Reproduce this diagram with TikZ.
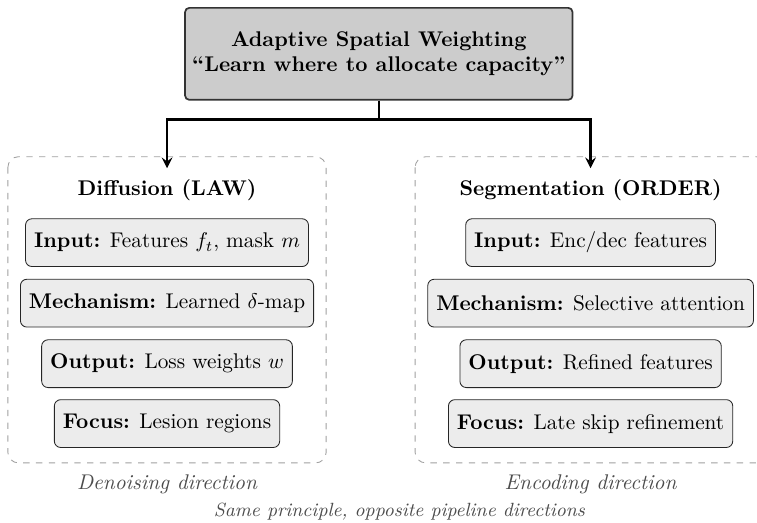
\documentclass[tikz,border=0pt]{standalone}
\usepackage{amsmath}
\usepackage{amssymb}

\begin{document}
\begin{tikzpicture}[x=1cm,y=1cm,
  topbox/.style={draw=black!80,fill=gray!40,rounded corners=2pt,thick,
    minimum width=6.38cm,minimum height=1.52cm,align=center},
  group/.style={draw=gray!75,dashed,rounded corners=5pt},
  item/.style={draw=black!85,fill=gray!15,rounded corners=3pt,
    inner xsep=4pt,minimum height=0.79cm},
  head/.style={font=\bfseries},
  note/.style={font=\itshape,text=black!70}]
  \useasboundingbox (0,0) rectangle (12.51,-8.64);

  \node[topbox] (asw) at (6.26,-0.89)
    {\textbf{Adaptive Spatial Weighting}\\ \textbf{``Learn where to allocate capacity''}};

  \draw [group] (0.13,-2.59) rectangle (5.39,-7.65);
  \draw [group] (6.86,-2.59) rectangle (12.67,-7.65);

  \coordinate (lend) at (2.76,-2.78);
  \coordinate (rend) at (9.76,-2.78);
  \draw [-stealth,line width=1.2pt] (asw.south) -- ++(0,-0.31) -| (lend);
  \draw [-stealth,line width=1.2pt] (asw.south) -- ++(0,-0.31) -| (rend);

  \node[head] (law) at (2.76,-3.14) {Diffusion (LAW)};
  \node[item] (lin)  at (2.76,-4.01) {\textbf{Input:} Features $f_t$, mask $m$};
  \node[item] (lmec) at (2.76,-5.01) {\textbf{Mechanism:} Learned $\delta$-map};
  \node[item] (lout) at (2.76,-6.01) {\textbf{Output:} Loss weights $w$};
  \node[item] (lfoc) at (2.76,-7.00) {\textbf{Focus:} Lesion regions};

  \node[head] (order) at (9.76,-3.14) {Segmentation (ORDER)};
  \node[item] (rin)  at (9.76,-4.01) {\textbf{Input:} Enc/dec features};
  \node[item] (rmec) at (9.76,-5.01) {\textbf{Mechanism:} Selective attention};
  \node[item] (rout) at (9.76,-6.01) {\textbf{Output:} Refined features};
  \node[item] (rfoc) at (9.76,-7.00) {\textbf{Focus:} Late skip refinement};

  \node[note] (ldir) at (2.76,-8.00) {Denoising direction};
  \node[note] (rdir) at (9.76,-8.00) {Encoding direction};
  \node[note,font=\small\itshape] (same) at (6.60,-8.45)
    {Same principle, opposite pipeline directions};
\end{tikzpicture}
\end{document}
